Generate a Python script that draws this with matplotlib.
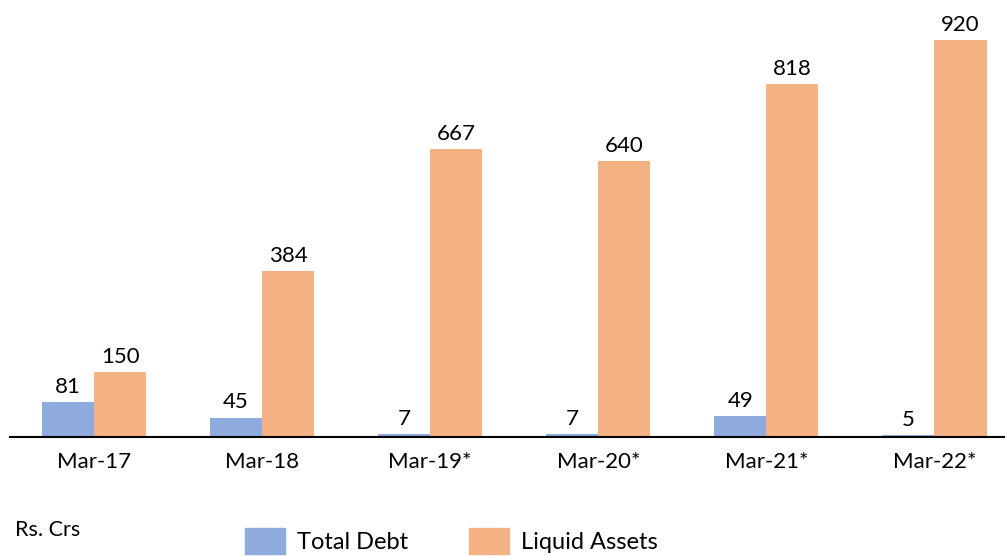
import numpy as np
import matplotlib.pyplot as plt
from matplotlib.patches import Patch

plt.rcParams['font.family'] = ['Lato', 'DejaVu Sans']

# data
periods = ['Mar-17', 'Mar-18', 'Mar-19*', 'Mar-20*', 'Mar-21*', 'Mar-22*']
total_debt = [81, 45, 7, 7, 49, 5]
liquid_assets = [150, 384, 667, 640, 818, 920]

blue = '#8FAADC'
orange = '#F4B183'

fig = plt.figure(figsize=(10.05, 5.56), dpi=100)
ax = fig.add_axes([10 / 1005, 119 / 556, 995 / 1005, 437 / 556])

x = np.arange(len(periods))
w = 0.31
b1 = ax.bar(x - w / 2, total_debt, w, color=blue, label='Total Debt')
b2 = ax.bar(x + w / 2, liquid_assets, w, color=orange, label='Liquid Assets')

for bars in (b1, b2):
    for r in bars:
        ax.text(r.get_x() + r.get_width() / 2, r.get_height() + 12,
                f'{int(r.get_height())}', ha='center', va='bottom', fontsize=16)

ax.set_xlim(-0.5, 5.42)
ax.set_ylim(0, 1013)
ax.set_xticks(x)
ax.set_xticklabels(periods, fontsize=16)
ax.tick_params(axis='x', length=0, pad=11)
ax.set_yticks([])
for s in ['top', 'right', 'left']:
    ax.spines[s].set_visible(False)
ax.spines['bottom'].set_linewidth(1.5)

fig.text(15 / 1005, 1 - 530 / 556, 'Rs. Crs', fontsize=15.5, va='center')

handles = [Patch(color=blue), Patch(color=orange)]
fig.legend(handles, ['Total Debt', 'Liquid Assets'], loc='lower center',
           bbox_to_anchor=(0.449, -0.018), ncol=2, frameon=False, fontsize=17,
           handlelength=1.7, handleheight=1.3, handletextpad=0.5,
           columnspacing=2.6, borderpad=0)

fig.savefig('out.png', dpi=100)
